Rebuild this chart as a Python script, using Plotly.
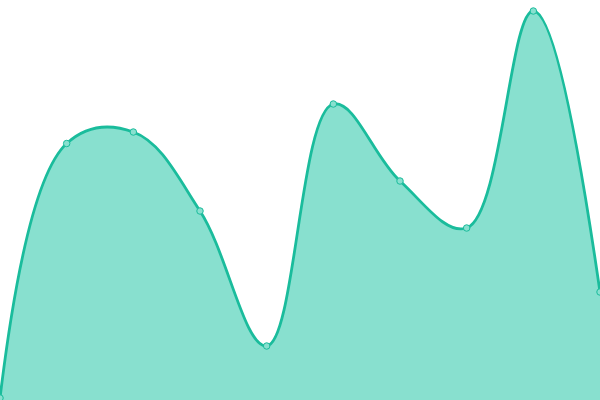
import plotly.graph_objects as go

x_vals = list(range(10))
y_vals = [2, 256.5, 268, 189, 54, 296, 219, 172, 389, 108]

fig = go.Figure()
fig.add_trace(go.Scatter(
    x=x_vals, y=y_vals,
    mode="lines+markers",
    line=dict(shape="spline", smoothing=1.1, color="#1abc9c", width=2.8),
    fill="tozeroy",
    fillcolor="#88e0cf",
    marker=dict(size=6.5, color="#88e0cf", line=dict(color="#1abc9c", width=1)),
    cliponaxis=False,
    hoverinfo="skip",
))
fig.update_layout(
    width=600, height=400,
    margin=dict(l=0, r=0, t=0, b=0),
    paper_bgcolor="white", plot_bgcolor="white",
    showlegend=False,
    xaxis=dict(range=[0, 9], visible=False, fixedrange=True),
    yaxis=dict(range=[0, 400], visible=False, fixedrange=True),
)
fig.write_html(
    "out.html",
    config={"displayModeBar": False},
    post_script="document.documentElement.style.margin='0';document.body.style.margin='0';document.body.style.padding='0';document.body.style.overflow='hidden';",
)
